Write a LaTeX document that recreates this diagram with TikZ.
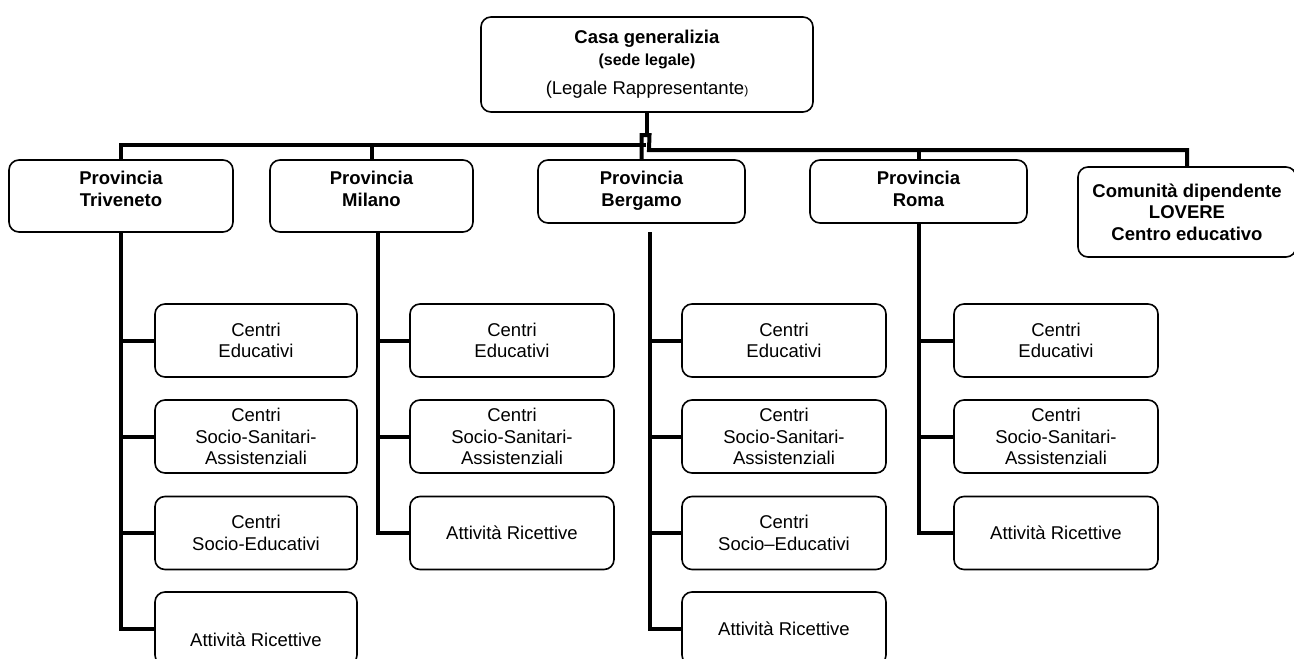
\documentclass[tikz,border=0pt]{standalone}
\usepackage{fontspec}
\setmainfont{Liberation Sans}
\usepackage{tikz}

\begin{document}
\begin{tikzpicture}[%
  x=1pt, y=-1pt,
  box/.style={rectangle, draw, rounded corners=10pt, line width=1.6pt, align=center, inner sep=0pt, font=\fontsize{18.5}{21.5}\selectfont},
  prov/.style={box, font=\fontsize{18.5}{21.5}\selectfont\bfseries},
  sub/.style={box, minimum width=204pt, minimum height=73pt},
  bus/.style={line width=4pt},]
  \useasboundingbox (0,0) rectangle (1294,659);
  \clip (0,0) rectangle (1294,659);
  \node[box, minimum width=332pt, minimum height=95pt] (casa) at (647,64.5)
    {\textbf{Casa generalizia}\\{\fontsize{16}{19}\selectfont\bfseries (sede legale)}\\[8pt](Legale Rappresentante{\fontsize{12}{12}\selectfont)}};
  \node[prov, minimum width=224pt, minimum height=72pt, text depth=14pt] (tri) at (121,196) {Provincia\\Triveneto};
  \node[prov, minimum width=203pt, minimum height=72pt, text depth=14pt] (mil) at (371.5,196) {Provincia\\Milano};
  \node[prov, minimum width=207pt, minimum height=63pt, text depth=5pt] (ber) at (641.5,191.5) {Provincia\\Bergamo};
  \node[prov, minimum width=217pt, minimum height=63pt, text depth=5pt] (rom) at (918.5,191.5) {Provincia\\Roma};
  \node[prov, minimum width=218pt, minimum height=90pt] (com) at (1187,212) {Comunità dipendente\\LOVERE\\Centro educativo};

  \node[sub, minimum width=202pt] (tri1) at (256,340.5) {Centri\\Educativi};
  \node[sub, minimum width=202pt] (tri2) at (256,436.5) {Centri\\Socio-Sanitari-\\Assistenziali};
  \node[sub, minimum width=202pt] (tri3) at (256,533) {Centri\\Socio-Educativi};
  \node[sub, minimum width=202pt, text height=37pt] (tri4) at (256,628.5) {Attività Ricettive};

  \node[sub] (mil1) at (512,340.5) {Centri\\Educativi};
  \node[sub] (mil2) at (512,436.5) {Centri\\Socio-Sanitari-\\Assistenziali};
  \node[sub] (mil3) at (512,533) {Attività Ricettive};

  \node[sub] (ber1) at (784,340.5) {Centri\\Educativi};
  \node[sub] (ber2) at (784,436.5) {Centri\\Socio-Sanitari-\\Assistenziali};
  \node[sub] (ber3) at (784,533) {Centri\\Socio–Educativi};
  \node[sub] (ber4) at (784,628.5) {Attività Ricettive};

  \node[sub] (rom1) at (1056,340.5) {Centri\\Educativi};
  \node[sub] (rom2) at (1056,436.5) {Centri\\Socio-Sanitari-\\Assistenziali};
  \node[sub] (rom3) at (1056,533) {Attività Ricettive};

  \coordinate (hub) at (casa.south |- 0,135);
  \coordinate (hubL) at (646,145);
  \coordinate (hubR) at (649,150);
  \draw[bus] (casa.south) -- (hub);
  \draw[bus] (tri.north) |- (hubL);
  \draw[bus] (mil.north) -- (mil.north |- hubL);
  \draw[bus] (ber.north) -- (ber.north |- hub) -- ++(8,0) -- (hubR) -| (com.north);
  \draw[bus] (rom.north) -- (rom.north |- hubR);

  \draw[bus] (tri.south) |- (tri1.west);
  \draw[bus] (tri.south) |- (tri2.west);
  \draw[bus] (tri.south) |- (tri3.west);
  \draw[bus] (tri.south) |- (tri4.west);

  \coordinate (milsp) at (378,232);
  \draw[bus] (milsp) |- (mil1.west);
  \draw[bus] (milsp) |- (mil2.west);
  \draw[bus] (milsp) |- (mil3.west);

  \coordinate (bersp) at (650,232);
  \draw[bus] (bersp) |- (ber1.west);
  \draw[bus] (bersp) |- (ber2.west);
  \draw[bus] (bersp) |- (ber3.west);
  \draw[bus] (bersp) |- (ber4.west);

  \draw[bus] (rom.south) |- (rom1.west);
  \draw[bus] (rom.south) |- (rom2.west);
  \draw[bus] (rom.south) |- (rom3.west);
\end{tikzpicture}
\end{document}
